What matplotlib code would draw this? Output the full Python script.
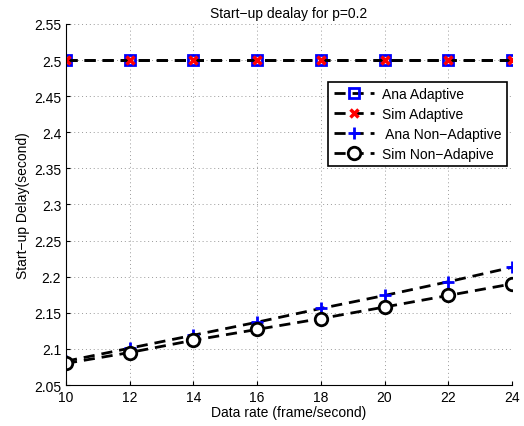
import matplotlib.pyplot as plt

plt.rcParams['font.family'] = ['Liberation Sans', 'DejaVu Sans']
plt.rcParams['font.size'] = 10

# data rate (frame/second)
rate = [10, 12, 14, 16, 18, 20, 22, 24]

# start-up delay (second)
ana_adaptive = [2.5, 2.5, 2.5, 2.5, 2.5, 2.5, 2.5, 2.5]
sim_adaptive = [2.5, 2.5, 2.5, 2.5, 2.5, 2.5, 2.5, 2.5]
ana_non_adaptive = [2.083, 2.101, 2.119, 2.137, 2.156, 2.174, 2.193, 2.213]
sim_non_adaptive = [2.080, 2.095, 2.112, 2.127, 2.142, 2.158, 2.174, 2.190]

fig = plt.figure(figsize=(5.24, 4.27), dpi=100)
ax = fig.add_axes([0.126, 0.096, 0.851, 0.8455])

dash = (0, (4, 2.5))
ax.plot(rate, ana_adaptive, color='k', ls=dash, lw=2, marker='s', ms=7,
        mfc='none', mec='blue', mew=2, label='Ana Adaptive')
ax.plot(rate, sim_adaptive, color='k', ls=dash, lw=2, marker='x', ms=6,
        mec='red', mew=2.5, label='Sim Adaptive')
ax.plot(rate, ana_non_adaptive, color='k', ls=dash, lw=2, marker='+', ms=9,
        mec='blue', mew=2, label=' Ana Non\u2212Adaptive')
ax.plot(rate, sim_non_adaptive, color='k', ls=dash, lw=2, marker='o', ms=9,
        mfc='white', mec='black', mew=2, label='Sim Non\u2212Adapive')

ax.set_xlim(10, 24)
ax.set_ylim(2.05, 2.55)
ax.set_xticks(rate)
ax.set_yticks([2.05, 2.1, 2.15, 2.2, 2.25, 2.3, 2.35, 2.4, 2.45, 2.5, 2.55])
ax.set_yticklabels(['2.05', '2.1', '2.15', '2.2', '2.25', '2.3', '2.35',
                    '2.4', '2.45', '2.5', '2.55'])
ax.grid(True, ls=(0, (1, 3)), color='#999999', lw=0.7)
ax.tick_params(direction='in', length=3, labelsize=10)
ax.spines['top'].set_visible(False)
ax.spines['right'].set_visible(False)

ax.set_title('Start\u2212up dealay for p=0.2', fontsize=10, pad=5)
ax.set_xlabel('Data rate (frame/second)', fontsize=10, labelpad=1)
ax.set_ylabel('Start\u2212up Delay(second)', fontsize=10, labelpad=3)

leg = ax.legend(loc='upper right', bbox_to_anchor=(0.988, 0.84), fontsize=10,
                handlelength=2.9, borderpad=0.4, labelspacing=0.42,
                handletextpad=0.55, borderaxespad=0, fancybox=False,
                framealpha=1)
leg.get_frame().set_edgecolor('black')
leg.get_frame().set_linewidth(1.2)

fig.savefig('out.png', dpi=100)
